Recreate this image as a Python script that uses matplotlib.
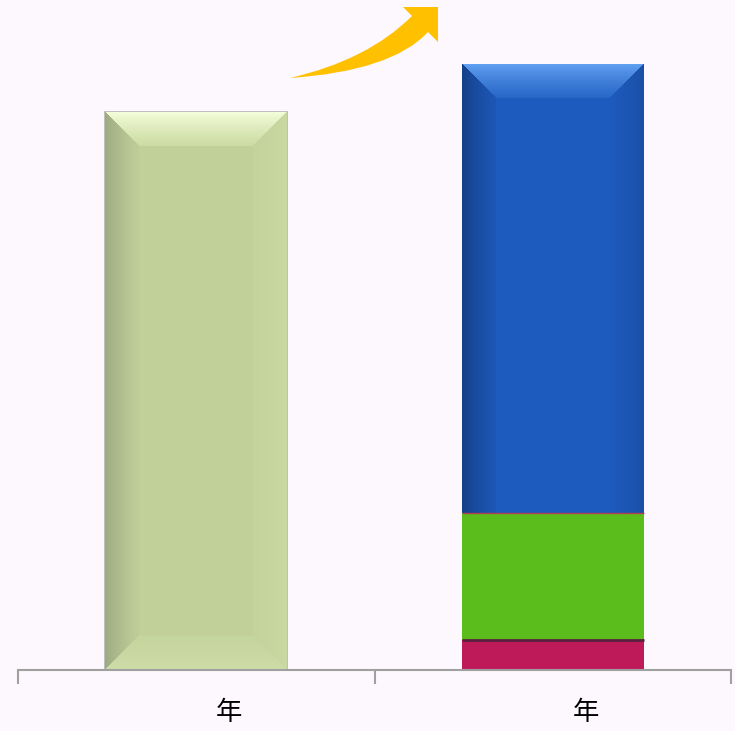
import numpy as np
import matplotlib
matplotlib.use('Agg')
import matplotlib.pyplot as plt
from matplotlib.path import Path
from matplotlib.patches import PathPatch
from matplotlib import transforms

plt.rcParams['font.family'] = ['Noto Sans CJK SC', 'DejaVu Sans']

# ---- data ----
categories = ['年', '年']
left_value = [55.8]
right_magenta = [3.0]
right_green = [12.7]
right_blue = [44.9]

BG = '#FDF8FD'
W_PX, H_PX = 735, 731

fig = plt.figure(figsize=(7.35, 7.31), dpi=100, facecolor=BG)
ax = fig.add_axes([18 / W_PX, 61 / H_PX, 713 / W_PX, 670 / H_PX])
ax.patch.set_alpha(0)
XLIM, YLIM = (-0.5, 1.5), (0, 67.0)
ax.set_xlim(*XLIM)
ax.set_ylim(*YLIM)

bw = 0.51
b_left = ax.bar(0, left_value, width=bw, color='#C2D09A', edgecolor='#B4B4B4', lw=1.2, zorder=2)
b_mag = ax.bar(1, right_magenta, width=bw, color='#BE1A5A', lw=0, zorder=2)
b_grn = ax.bar(1, right_green, width=bw, bottom=right_magenta, color='#5BBD1C', lw=0, zorder=2)
b_blu = ax.bar(1, right_blue, width=bw, bottom=np.add(right_magenta, right_green),
               color='#1E5BBE', lw=0, zorder=2)

# thin seams between stacked segments
for r, col, lw in [(b_grn[0], '#5A1F40', 2.0), (b_blu[0], '#B04050', 1.0)]:
    ax.hlines(r.get_y(), r.get_x(), r.get_x() + r.get_width(), colors=col, lw=lw, zorder=2.6)


def hexrgb(h):
    h = h.lstrip('#')
    return np.array([int(h[i:i + 2], 16) / 255 for i in (0, 2, 4)])


def bevel(rect, b, base, faces):
    (x0, y0), (x1, y1) = ax.transData.transform([(rect.get_x(), rect.get_y()),
                                                 (rect.get_x() + rect.get_width(),
                                                  rect.get_y() + rect.get_height())])
    W, H = int(round(x1 - x0)), int(round(y1 - y0))
    xx, yy = np.meshgrid(np.arange(W) + 0.5, np.arange(H) + 0.5)
    dists = {'top': yy, 'bottom': H - yy, 'left': xx, 'right': W - xx}
    big = np.full_like(xx, 1e9)
    for k in dists:
        if k not in faces:
            dists[k] = big
    dmin = np.minimum.reduce(list(dists.values()))
    img = np.ones((H, W, 3)) * hexrgb(base)
    for k, (c_edge, c_in) in faces.items():
        d = dists[k]
        m = (d == dmin) & (d < b)
        t = (d / b)[..., None] ** 0.8
        col = hexrgb(c_edge) * (1 - t) + hexrgb(c_in) * t
        img[m] = col[m]
    ax.imshow(img, extent=(rect.get_x(), rect.get_x() + rect.get_width(),
                           rect.get_y(), rect.get_y() + rect.get_height()),
              aspect='auto', zorder=2.5, clip_path=rect, interpolation='bilinear')


bevel(b_left[0], 34, '#C2D09A', {
    'top': ('#F6FFDC', '#CCDBA4'),
    'left': ('#9CA982', '#C0CF99'),
    'right': ('#C9D9A1', '#C4D39C'),
    'bottom': ('#CEDDA9', '#C5D59E'),
})
bevel(b_blu[0], 34, '#1E5BBE', {
    'top': ('#63A3F4', '#2766C6'),
    'left': ('#163F86', '#1D58B8'),
    'right': ('#1B4FA6', '#1E5BBE'),
})
ax.set_xlim(*XLIM)
ax.set_ylim(*YLIM)

# ---- axis ----
for s in ['top', 'left', 'right']:
    ax.spines[s].set_visible(False)
ax.spines['bottom'].set_color('#A0A0A0')
ax.spines['bottom'].set_linewidth(1.5)
ax.spines['bottom'].set_zorder(3)
ax.set_yticks([])
ax.set_xticks([-0.5, 0.5, 1.5])
ax.set_xticklabels([])
ax.tick_params(axis='x', length=10, width=1.5, color='#A0A0A0', direction='out')
lab_tr = transforms.offset_copy(ax.get_xaxis_transform(), fig=fig, x=33, y=-42, units='dots')
for i, c in enumerate(categories):
    ax.text(i, 0, c, transform=lab_tr, ha='center', va='center', fontsize=19, color='black')

# ---- growth arrow (decoration) ----
def fp(x, y):
    return (x / W_PX, 1 - y / H_PX)

verts = [fp(290, 78), fp(368, 60), fp(412, 16), fp(403, 7), fp(438, 7), fp(438, 42),
         fp(428, 32), fp(392, 71), fp(290, 78), fp(290, 78)]
codes = [Path.MOVETO, Path.CURVE3, Path.CURVE3, Path.LINETO, Path.LINETO, Path.LINETO,
         Path.LINETO, Path.CURVE3, Path.CURVE3, Path.CLOSEPOLY]
fig.patches.append(PathPatch(Path(verts, codes), transform=fig.transFigure,
                             facecolor='#FFC000', edgecolor='none'))

fig.savefig('out.png', dpi=100, facecolor=BG)
